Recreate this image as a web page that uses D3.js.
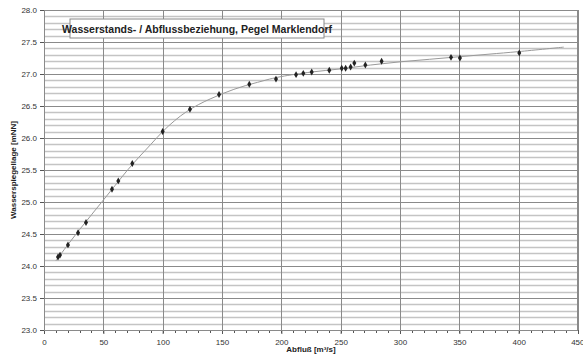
<!DOCTYPE html>
<html>
<head>
<meta charset="utf-8">
<script src="https://cdn.jsdelivr.net/npm/d3@7"></script>
<style>
  body { margin: 0; background: #fff; }
  text { font-family: Arial, "Liberation Sans", sans-serif; }
</style>
</head>
<body>
<div id="chart"></div>
<script>
// measured points (Abfluss m3/s, Wasserstand mNN)
var flow = [11.8, 13.5, 20.2, 28.7, 35.4, 57.3, 62.6, 74.4, 100, 123, 147.5, 173, 195.5, 212.4, 218.5, 225.6, 240.4, 250.9, 254.2, 258.4, 261.5, 270.8, 284.5, 343, 350.5, 400.5];
var stage = [24.14, 24.17, 24.33, 24.52, 24.68, 25.2, 25.33, 25.6, 26.1, 26.45, 26.68, 26.84, 26.92, 26.99, 27.01, 27.03, 27.06, 27.09, 27.09, 27.11, 27.17, 27.14, 27.2, 27.26, 27.25, 27.33];

// fitted curve
var curveFlow = [10, 20, 30, 40, 50, 60, 70, 80, 90, 100, 110, 120, 130, 140, 150, 160, 170, 180, 190, 200, 225, 250, 275, 300, 325, 350, 375, 400, 438];
var curveStage = [24.08, 24.33, 24.57, 24.8, 25.03, 25.26, 25.49, 25.7, 25.9, 26.1, 26.27, 26.41, 26.52, 26.61, 26.69, 26.76, 26.82, 26.87, 26.92, 26.96, 27.03, 27.08, 27.14, 27.19, 27.23, 27.27, 27.31, 27.35, 27.42];

var xTicks = [0, 50, 100, 150, 200, 250, 300, 350, 400, 450];
var yTicks = [23.0, 23.5, 24.0, 24.5, 25.0, 25.5, 26.0, 26.5, 27.0, 27.5, 28.0];

var svgWidth = 583;
var svgHeight = 356;
var margin = { top: 10, right: 5, bottom: 26, left: 44 };
var width = svgWidth - margin.left - margin.right;
var height = svgHeight - margin.top - margin.bottom;

var svg = d3.select("#chart").append("svg")
  .attr("width", svgWidth)
  .attr("height", svgHeight);

var chartGroup = svg.append("g")
  .attr("transform", `translate(${margin.left}, ${margin.top})`);

var xScale = d3.scaleLinear().domain([0, 450]).range([0, width]);
var yScale = d3.scaleLinear().domain([23, 28]).range([height, 0]);

// minor horizontal grid every 0.1
var minorY = d3.range(231, 280).map(d => d / 10).filter(d => Math.round(d * 10) % 5 !== 0);
chartGroup.selectAll(".minor-y")
  .data(minorY)
  .enter()
  .append("line")
  .attr("x1", 0).attr("x2", width)
  .attr("y1", d => Math.round(yScale(d)) + 0.5)
  .attr("y2", d => Math.round(yScale(d)) + 0.5)
  .attr("stroke", "#c4c4c4")
  .attr("stroke-width", 1.6);

// major grid
chartGroup.selectAll(".major-y")
  .data(yTicks)
  .enter()
  .append("line")
  .attr("x1", 0).attr("x2", width)
  .attr("y1", d => Math.round(yScale(d)) + 0.5)
  .attr("y2", d => Math.round(yScale(d)) + 0.5)
  .attr("stroke", "#8a8a8a")
  .attr("stroke-width", 1);

chartGroup.selectAll(".major-x")
  .data(xTicks.slice(1))
  .enter()
  .append("line")
  .attr("y1", 0).attr("y2", height)
  .attr("x1", d => Math.round(xScale(d)) + 0.5)
  .attr("x2", d => Math.round(xScale(d)) + 0.5)
  .attr("stroke", "#8a8a8a")
  .attr("stroke-width", 1);

// axes
var bottomAxis = d3.axisBottom(xScale).tickValues(xTicks).tickSize(4).tickPadding(5).tickFormat(d3.format("d"));
var leftAxis = d3.axisLeft(yScale).tickValues(yTicks).tickSize(4).tickPadding(3).tickFormat(d3.format(".1f"));

var xAxis = chartGroup.append("g")
  .attr("transform", `translate(0, ${height})`)
  .call(bottomAxis);
var yAxis = chartGroup.append("g").call(leftAxis);

// minor x ticks every 10
chartGroup.selectAll(".minor-x")
  .data(d3.range(0, 451, 10))
  .enter()
  .append("line")
  .attr("x1", d => Math.round(xScale(d)) + 0.5)
  .attr("x2", d => Math.round(xScale(d)) + 0.5)
  .attr("y1", height).attr("y2", height + 3)
  .attr("stroke", "#555");

[xAxis, yAxis].forEach(function(ax) {
  ax.selectAll("path").attr("stroke", "#555");
  ax.selectAll("line").attr("stroke", "#555");
  ax.selectAll("text").attr("fill", "#333").style("font-size", "8px");
});

// last x label sits at the page edge, keep it inside
xAxis.selectAll(".tick:last-of-type text").attr("text-anchor", "end").attr("dx", "6px");

// frame top/right
chartGroup.append("rect")
  .attr("x", 0.5).attr("y", 0.5)
  .attr("width", width - 1).attr("height", height)
  .attr("fill", "none")
  .attr("stroke", "#8a8a8a");

// curve
var line = d3.line()
  .x((d, i) => xScale(curveFlow[i]))
  .y((d, i) => yScale(curveStage[i]))
  .curve(d3.curveCatmullRom);

chartGroup.append("path")
  .datum(curveFlow)
  .attr("d", line)
  .attr("fill", "none")
  .attr("stroke", "#9a9a9a")
  .attr("stroke-width", 1);

// diamonds
chartGroup.selectAll(".pt")
  .data(flow)
  .enter()
  .append("path")
  .attr("d", d3.symbol().type(d3.symbolDiamond).size(14))
  .attr("transform", (d, i) => `translate(${xScale(d)}, ${yScale(stage[i])})`)
  .attr("fill", "#222");

// title box
var titleGroup = chartGroup.append("g");
titleGroup.append("rect")
  .attr("x", 26).attr("y", 9)
  .attr("width", 254).attr("height", 19)
  .attr("fill", "#fff")
  .attr("stroke", "#8a8a8a");
titleGroup.append("text")
  .attr("x", 153).attr("y", 22.5)
  .attr("text-anchor", "middle")
  .style("font-size", "10.5px")
  .style("font-weight", "bold")
  .attr("fill", "#222")
  .text("Wasserstands- / Abflussbeziehung, Pegel Marklendorf");

// axis labels
svg.append("text")
  .attr("x", 311).attr("y", 352)
  .attr("text-anchor", "middle")
  .style("font-size", "8px")
  .style("font-weight", "bold")
  .attr("fill", "#222")
  .text("Abfluß [m³/s]");

svg.append("text")
  .attr("transform", "translate(16, 170) rotate(-90)")
  .attr("text-anchor", "middle")
  .style("font-size", "8px")
  .style("font-weight", "bold")
  .attr("fill", "#222")
  .text("Wasserspiegellage [mNN]");
</script>
</body>
</html>
